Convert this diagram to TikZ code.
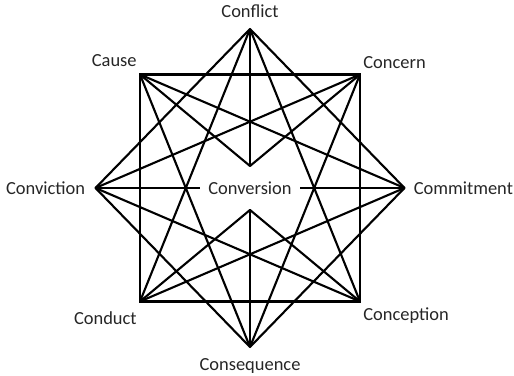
\documentclass[tikz,border=0pt]{standalone}
\usepackage{fontspec}
\setmainfont{Carlito}
\usetikzlibrary{positioning}

\begin{document}
\begin{tikzpicture}[
    every node/.style={font=\fontsize{10.5}{12}\selectfont, text=black!85},
    vtx/.style={coordinate},
    lbl/.style={inner sep=0pt},
    edge/.style={draw, line width=1.2pt, line join=round},
    frame/.style={draw, line width=1.4pt, line join=miter},
]
\useasboundingbox (-5.0,-3.76) rectangle (5.28,3.76);
\def\R{3.18}
\def\RW{3.09}
\def\H{2.2}
\def\V{2.27}

% eight outer points
\node[vtx] (conflict)    at (0, \R)      {};
\node[vtx] (concern)     at (\H, \V)     {};
\node[vtx] (commitment)  at (\RW, 0)     {};
\node[vtx] (conception)  at (\H, -\V)    {};
\node[vtx] (consequence) at (0, -\R)     {};
\node[vtx] (conduct)     at (-\H, -\V)   {};
\node[vtx] (conviction)  at (-\RW, 0)    {};
\node[vtx] (cause)       at (-\H, \V)    {};
\coordinate (inTop) at (0, 0.44);
\coordinate (inBot) at (0, -0.44);

\node[inner sep=4.5pt] (conversion) at (0, 0) {Conversion};

% labels
\node[lbl, above=0.22cm of conflict]                  (lConflict)    {Conflict};
\node[lbl, above right=0.12cm and 0.06cm of concern]  (lConcern)     {Concern};
\node[lbl, right=0.18cm of commitment]                (lCommitment)  {Commitment};
\node[lbl, below right=0.12cm and 0.06cm of conception] (lConception) {Conception};
\node[lbl, below=0.22cm of consequence]               (lConsequence) {Consequence};
\node[lbl, below left=0.2cm and 0.06cm of conduct]    (lConduct)     {Conduct};
\node[lbl, left=0.2cm of conviction]                  (lConviction)  {Conviction};
\node[lbl, above left=0.16cm and 0.06cm of cause]     (lCause)       {Cause};

% square and diamond
\draw[frame] (cause) -- (concern) -- (conception) -- (conduct) -- cycle;
\draw[edge] (conflict) -- (commitment) -- (consequence) -- (conviction) -- cycle;

% star
\foreach \a/\b in {conflict/conduct, conflict/conception, concern/conviction,
                   concern/consequence, commitment/cause, commitment/conduct,
                   conception/conviction, cause/consequence}
    \draw[edge] (\a) -- (\b);

% inner spokes
\draw[edge] (cause) -- (inTop) -- (concern);
\draw[edge] (conflict) -- (inTop);
\draw[edge] (conduct) -- (inBot) -- (conception);
\draw[edge] (consequence) -- (inBot);
\draw[edge] (conviction) -- (conversion);
\draw[edge] (commitment) -- (conversion);
\end{tikzpicture}
\end{document}
